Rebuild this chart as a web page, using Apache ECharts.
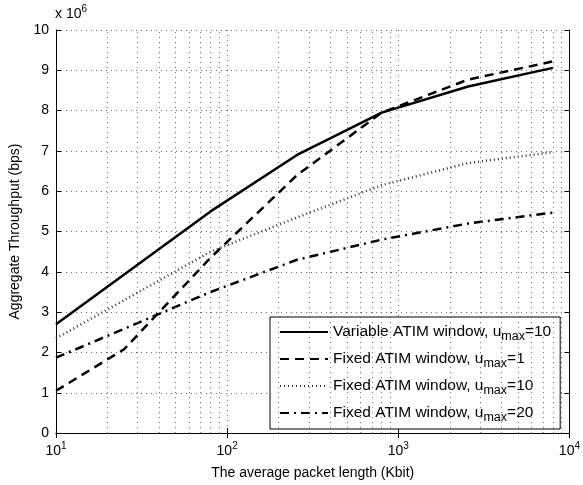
<!DOCTYPE html>
<html>
<head>
<meta charset="utf-8">
<script src="https://cdn.jsdelivr.net/npm/echarts@6/dist/echarts.min.js"></script>
<style>
  html, body { margin: 0; padding: 0; background: #fff; }
  #chart { width: 583px; height: 485px; }
</style>
</head>
<body>
<div id="chart"></div>
<script>
// packet length (Kbit) and throughput (x 10^6 bps)
var packetLen = [10, 80, 256, 800, 2560, 8000];
var packetLenU1 = [10, 25, 80, 256, 800, 2560, 8000];
var variableU10 = [2.7, 5.5, 6.9, 7.95, 8.6, 9.06];
var fixedU1 = [1.05, 2.08, 4.35, 6.4, 7.95, 8.77, 9.22];
var fixedU10 = [2.35, 4.5, 5.35, 6.15, 6.7, 6.97];
var fixedU20 = [1.87, 3.5, 4.3, 4.8, 5.2, 5.47];
var minorX = [20, 30, 40, 50, 60, 70, 80, 90, 200, 300, 400, 500, 600, 700, 800, 900,
  2000, 3000, 4000, 5000, 6000, 7000, 8000, 9000];

function pairs(xs, ys) {
  return xs.map(function (x, i) { return [x, ys[i]]; });
}

var font = 'Liberation Sans, Arial, sans-serif';
var gridDot = { color: '#666', width: 1, type: [1, 4] };

var chart = echarts.init(document.getElementById('chart'));

var option = {
  animation: false,
  textStyle: { fontFamily: font },
  grid: { left: 55, right: 11, top: 30, bottom: 48 },
  legend: {
    orient: 'vertical',
    left: 270,
    top: 317,
    itemWidth: 48,
    itemHeight: 14,
    itemGap: 5,
    padding: [4, 9, 5, 9],
    backgroundColor: '#fff',
    borderColor: '#000',
    borderWidth: 1,
    itemStyle: { opacity: 0, color: 'transparent', borderWidth: 0 },
    data: ['Variable ATIM window, u_max=10', 'Fixed ATIM window, u_max=1',
      'Fixed ATIM window, u_max=10', 'Fixed ATIM window, u_max=20'],
    formatter: function (name) {
      return name.replace('u_max', 'u{sub|max}');
    },
    textStyle: {
      fontSize: 15.5,
      color: '#000',
      lineHeight: 22,
      rich: {
        sub: { fontSize: 12.5, lineHeight: 7, verticalAlign: 'bottom', color: '#000' }
      }
    }
  },
  graphic: [{
    type: 'text',
    left: 55,
    top: 4,
    style: {
      text: 'x 10{sup|6}',
      font: '14px ' + font,
      fill: '#000',
      lineHeight: 20,
      rich: { sup: { fontSize: 10, lineHeight: 8, verticalAlign: 'top', fill: '#000' } }
    }
  }],
  xAxis: [{
    type: 'log',
    logBase: 10,
    min: 10,
    max: 10000,
    name: 'The average packet length (Kbit)',
    nameLocation: 'middle',
    nameGap: 28,
    nameTextStyle: { fontSize: 14, color: '#000' },
    axisLine: { lineStyle: { color: '#000', width: 1 } },
    axisTick: { inside: true, length: 5, lineStyle: { color: '#000' } },
    axisLabel: {
      margin: 8,
      color: '#000',
      fontSize: 14,
      lineHeight: 20,
      formatter: function (v) {
        return '10{sup|' + Math.round(Math.log10(v)) + '}';
      },
      rich: { sup: { fontSize: 10, lineHeight: 8, verticalAlign: 'top' } }
    },
    splitLine: { show: true, lineStyle: gridDot }
  }, {
    type: 'log',
    logBase: 10,
    min: 10,
    max: 10000,
    position: 'top',
    axisLine: { lineStyle: { color: '#000', width: 1 } },
    axisTick: { inside: true, length: 5, lineStyle: { color: '#000' } },
    axisLabel: { show: false },
    splitLine: { show: false }
  }],
  yAxis: [{
    type: 'value',
    min: 0,
    max: 10,
    interval: 1,
    name: 'Aggregate Throughput (bps)',
    nameLocation: 'middle',
    nameGap: 34,
    nameTextStyle: { fontSize: 14, color: '#000' },
    axisLine: { show: true, lineStyle: { color: '#000', width: 1 } },
    axisTick: { show: true, inside: true, length: 5, lineStyle: { color: '#000' } },
    axisLabel: { color: '#000', fontSize: 14, margin: 7 },
    splitLine: { show: true, lineStyle: gridDot }
  }, {
    type: 'value',
    min: 0,
    max: 10,
    interval: 1,
    position: 'right',
    axisLine: { show: true, lineStyle: { color: '#000', width: 1 } },
    axisTick: { show: true, inside: true, length: 5, lineStyle: { color: '#000' } },
    axisLabel: { show: false },
    splitLine: { show: false }
  }],
  series: [{
    type: 'line',
    name: 'minor grid',
    z: 1,
    silent: true,
    data: [],
    markLine: {
      silent: true,
      symbol: 'none',
      label: { show: false },
      lineStyle: gridDot,
      data: minorX.map(function (x) { return { xAxis: x }; })
    }
  }, {
    type: 'line',
    name: 'Variable ATIM window, u_max=10',
    data: pairs(packetLen, variableU10),
    symbol: 'none',
    z: 5,
    lineStyle: { color: '#000', width: 2.5, type: 'solid' },
    itemStyle: { color: '#000' }
  }, {
    type: 'line',
    name: 'Fixed ATIM window, u_max=1',
    data: pairs(packetLenU1, fixedU1),
    symbol: 'none',
    z: 4,
    lineStyle: { color: '#000', width: 2.5, type: [9, 6] },
    itemStyle: { color: '#000' }
  }, {
    type: 'line',
    name: 'Fixed ATIM window, u_max=10',
    data: pairs(packetLen, fixedU10),
    symbol: 'none',
    z: 3,
    lineStyle: { color: '#333', width: 2.5, type: [1, 3] },
    itemStyle: { color: '#333' }
  }, {
    type: 'line',
    name: 'Fixed ATIM window, u_max=20',
    data: pairs(packetLen, fixedU20),
    symbol: 'none',
    z: 3,
    lineStyle: { color: '#000', width: 2.5, type: [9, 5, 2, 5] },
    itemStyle: { color: '#000' }
  }]
};

chart.setOption(option);
</script>
</body>
</html>
